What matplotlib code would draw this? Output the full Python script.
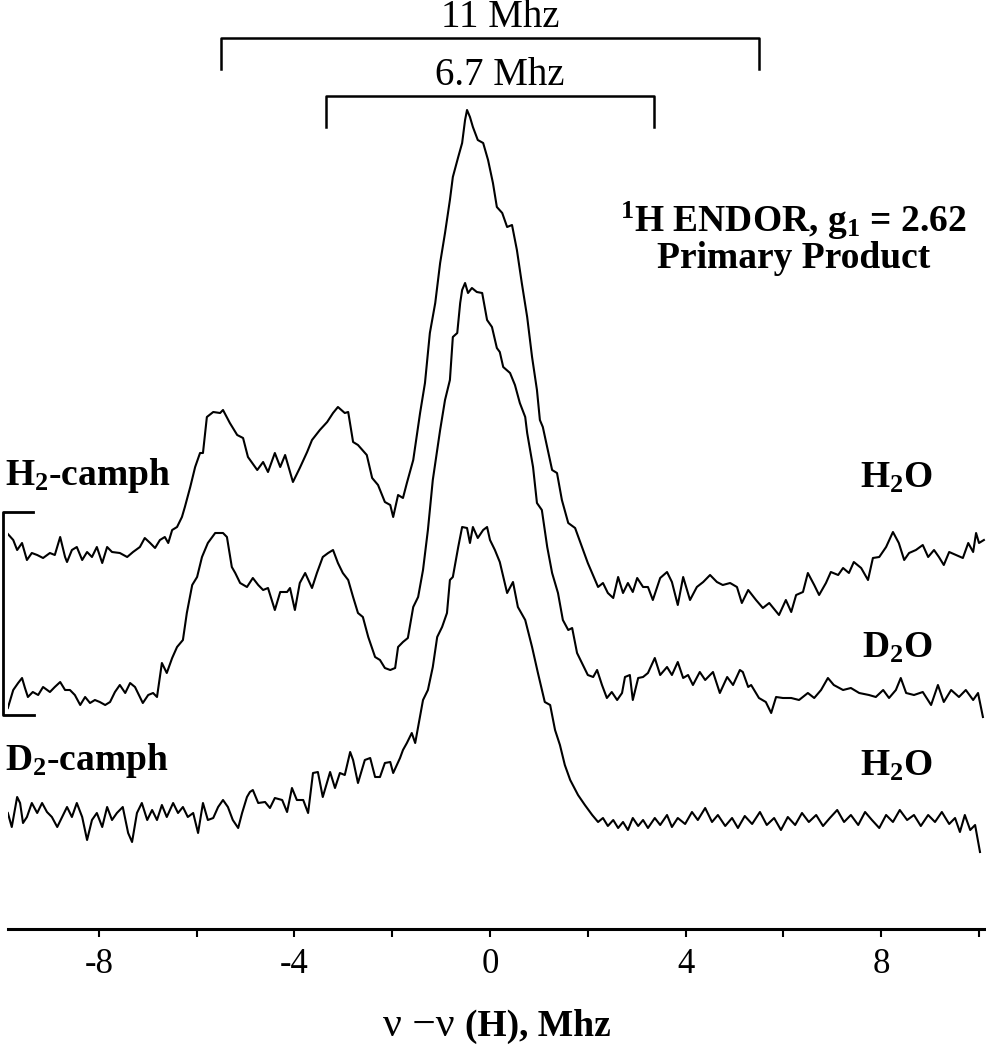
import matplotlib.pyplot as plt

plt.rcParams['font.family'] = ['Liberation Serif', 'DejaVu Serif']
plt.rcParams['mathtext.fontset'] = 'custom'
plt.rcParams['mathtext.rm'] = 'Liberation Serif'
plt.rcParams['mathtext.bf'] = 'Liberation Serif:bold'
plt.rcParams['mathtext.it'] = 'Liberation Serif:italic'

# ENDOR spectra, frequency offset nu - nu(H) in MHz and intensity (a.u.)
h2_h2o_x = [-9.86, -9.75, -9.67, -9.57, -9.47, -9.37, -9.26, -9.14, -9.00, -8.90,
            -8.79, -8.69, -8.65, -8.55, -8.45, -8.34, -8.24, -8.14, -8.04, -7.93,
            -7.83, -7.73, -7.57, -7.42, -7.30, -7.16, -7.06, -6.95, -6.85, -6.75,
            -6.65, -6.58, -6.50, -6.40, -6.30, -6.24, -6.13, -6.03, -5.93, -5.87,
            -5.79, -5.66, -5.52, -5.46, -5.32, -5.17, -5.05, -4.95, -4.76, -4.64,
            -4.54, -4.40, -4.29, -4.19, -4.03, -3.89, -3.74, -3.64, -3.48, -3.33,
            -3.21, -3.11, -2.97, -2.90, -2.80, -2.70, -2.52, -2.41, -2.29, -2.15,
            -2.04, -1.98, -1.88, -1.78, -1.70, -1.57, -1.43, -1.33, -1.23, -1.12,
            -1.02, -0.92, -0.82, -0.76, -0.65, -0.57, -0.51, -0.47, -0.41, -0.35,
            -0.25, -0.14, -0.04, 0.06, 0.14, 0.25, 0.35, 0.45, 0.55, 0.65,
            0.76, 0.86, 0.96, 1.02, 1.08, 1.27, 1.37, 1.47, 1.60, 1.74,
            1.88, 2.00, 2.15, 2.21, 2.31, 2.41, 2.52, 2.62, 2.72, 2.82,
            2.92, 3.01, 3.13, 3.23, 3.33, 3.48, 3.62, 3.72, 3.84, 3.95,
            4.09, 4.23, 4.36, 4.50, 4.64, 4.76, 4.91, 5.05, 5.15, 5.28,
            5.44, 5.58, 5.71, 5.91, 6.05, 6.16, 6.26, 6.40, 6.50, 6.63,
            6.73, 6.87, 6.97, 7.12, 7.22, 7.34, 7.44, 7.59, 7.73, 7.83,
            7.96, 8.10, 8.24, 8.36, 8.47, 8.57, 8.71, 8.85, 8.96, 9.08,
            9.18, 9.28, 9.39, 9.53, 9.67, 9.78, 9.88, 9.94, 10.00, 10.10]
h2_h2o_y = [19, 13, 3, 10, -7, 0, -2, -5, 0, -2,
            16, -4, -9, 3, 6, -7, 1, -4, 6, -10,
            6, 1, 0, -4, 1, 6, 15, 10, 5, 13,
            16, 10, 23, 26, 36, 46, 66, 86, 100, 100,
            136, 141, 140, 143, 130, 118, 115, 96, 83, 91,
            81, 100, 86, 98, 71, 85, 101, 113, 123, 131,
            140, 146, 140, 141, 111, 108, 98, 75, 68, 51,
            48, 36, 58, 55, 70, 93, 140, 170, 220, 250,
            290, 320, 353, 376, 396, 410, 433, 443, 436, 426,
            413, 410, 393, 370, 346, 340, 326, 328, 303, 270,
            236, 196, 163, 133, 126, 83, 80, 53, 30, 25,
            6, -10, -27, -34, -30, -40, -45, -24, -40, -30,
            -39, -25, -34, -34, -47, -25, -19, -29, -52, -24,
            -47, -34, -29, -22, -29, -32, -30, -34, -50, -37,
            -47, -55, -50, -62, -47, -59, -42, -39, -20, -32,
            -42, -30, -19, -22, -15, -20, -9, -15, -27, -5,
            -4, 6, 21, 10, -7, 0, 3, 8, -4, 3,
            -4, -12, 1, -2, -5, 10, 1, 20, 10, 13]

h2_d2o_x = [-9.86, -9.75, -9.65, -9.57, -9.51, -9.45, -9.35, -9.24, -9.14, -9.00,
            -8.90, -8.79, -8.69, -8.59, -8.49, -8.38, -8.28, -8.18, -8.08, -7.98,
            -7.87, -7.77, -7.67, -7.57, -7.46, -7.36, -7.26, -7.16, -7.10, -6.99,
            -6.89, -6.81, -6.71, -6.61, -6.50, -6.40, -6.28, -6.20, -6.09, -5.99,
            -5.89, -5.77, -5.62, -5.46, -5.38, -5.28, -5.21, -5.11, -4.97, -4.85,
            -4.74, -4.64, -4.54, -4.40, -4.29, -4.15, -4.09, -3.99, -3.89, -3.78,
            -3.64, -3.54, -3.42, -3.31, -3.21, -3.11, -3.01, -2.90, -2.80, -2.70,
            -2.60, -2.49, -2.35, -2.25, -2.15, -2.04, -1.94, -1.88, -1.78, -1.68,
            -1.57, -1.47, -1.37, -1.27, -1.17, -1.02, -0.92, -0.82, -0.76, -0.67,
            -0.61, -0.57, -0.51, -0.45, -0.37, -0.27, -0.16, -0.06, 0.04, 0.14,
            0.20, 0.27, 0.41, 0.51, 0.61, 0.72, 0.76, 0.88, 0.96, 1.06,
            1.17, 1.27, 1.39, 1.49, 1.60, 1.68, 1.78, 1.88, 2.00, 2.11,
            2.19, 2.29, 2.39, 2.49, 2.60, 2.70, 2.76, 2.86, 2.92, 3.03,
            3.13, 3.23, 3.37, 3.48, 3.62, 3.72, 3.84, 3.95, 4.05, 4.15,
            4.29, 4.40, 4.56, 4.70, 4.85, 4.97, 5.11, 5.17, 5.28, 5.34,
            5.50, 5.64, 5.75, 5.85, 5.99, 6.16, 6.32, 6.50, 6.63, 6.77,
            6.91, 7.03, 7.22, 7.38, 7.55, 7.75, 7.89, 8.04, 8.16, 8.30,
            8.40, 8.51, 8.67, 8.85, 9.02, 9.16, 9.28, 9.43, 9.59, 9.73,
            9.88, 9.98, 10.08]
h2_d2o_y = [-15, 3, 10, 15, 5, -4, 1, -2, 6, 1,
            6, 11, 3, 3, -2, -12, -4, -10, -7, -9,
            -12, -9, 1, 8, 0, 10, 6, -4, -10, -2,
            0, -4, 30, 20, 35, 46, 53, 80, 108, 116,
            136, 150, 160, 160, 156, 126, 120, 110, 106, 115,
            108, 103, 105, 83, 101, 101, 105, 83, 110, 120,
            105, 120, 136, 140, 143, 130, 120, 113, 96, 80,
            76, 56, 36, 33, 25, 23, 25, 46, 51, 55,
            86, 96, 123, 163, 213, 263, 293, 313, 356, 360,
            390, 403, 410, 400, 405, 401, 400, 373, 366, 345,
            341, 326, 320, 308, 290, 276, 260, 226, 190, 183,
            146, 120, 100, 73, 63, 65, 40, 30, 18, 16,
            23, 8, -5, 1, -7, 0, 16, 18, -7, 15,
            16, 20, 35, 18, 26, 18, 31, 15, 18, 8,
            21, 13, 21, 0, 16, 8, 23, 21, 6, 8,
            -5, -9, -20, -4, -5, -5, -7, 0, -5, 3,
            15, 8, 3, 5, 0, -2, -4, 3, -5, 3,
            15, 0, -2, 1, -12, 8, -9, 3, -4, 3,
            -7, 0, -24]

d2_h2o_x = [-9.86, -9.78, -9.67, -9.61, -9.55, -9.47, -9.37, -9.26, -9.16, -9.06,
            -8.96, -8.85, -8.75, -8.65, -8.55, -8.45, -8.34, -8.24, -8.14, -8.04,
            -7.93, -7.83, -7.73, -7.63, -7.51, -7.40, -7.32, -7.22, -7.12, -7.01,
            -6.91, -6.81, -6.71, -6.61, -6.48, -6.38, -6.28, -6.18, -6.07, -5.97,
            -5.87, -5.77, -5.66, -5.56, -5.46, -5.36, -5.26, -5.15, -5.07, -4.97,
            -4.91, -4.85, -4.74, -4.60, -4.50, -4.40, -4.25, -4.15, -4.05, -3.95,
            -3.82, -3.72, -3.62, -3.52, -3.42, -3.27, -3.17, -3.07, -2.97, -2.86,
            -2.80, -2.70, -2.56, -2.45, -2.35, -2.25, -2.15, -2.04, -1.98, -1.84,
            -1.78, -1.70, -1.60, -1.53, -1.47, -1.37, -1.27, -1.17, -1.08, -0.98,
            -0.88, -0.82, -0.76, -0.65, -0.57, -0.47, -0.41, -0.35, -0.25, -0.14,
            -0.06, 0.00, 0.10, 0.20, 0.35, 0.47, 0.57, 0.72, 0.86, 0.98,
            1.12, 1.23, 1.33, 1.43, 1.53, 1.64, 1.80, 1.94, 2.09, 2.21,
            2.31, 2.41, 2.52, 2.62, 2.72, 2.82, 2.92, 3.03, 3.13, 3.23,
            3.37, 3.48, 3.62, 3.72, 3.84, 3.99, 4.13, 4.25, 4.40, 4.54,
            4.66, 4.81, 4.95, 5.07, 5.21, 5.36, 5.52, 5.66, 5.81, 5.95,
            6.09, 6.24, 6.38, 6.52, 6.67, 6.81, 6.95, 7.10, 7.24, 7.38,
            7.53, 7.67, 7.81, 7.96, 8.10, 8.24, 8.38, 8.53, 8.67, 8.81,
            8.96, 9.10, 9.24, 9.39, 9.51, 9.61, 9.71, 9.82, 9.92, 10.02]
d2_h2o_y = [2, -12, 18, 12, -8, -2, 12, 2, 12, 3,
            -2, -12, -2, 8, -2, 12, -2, -25, -5, 2,
            -12, 8, -5, 2, 8, -18, -27, 2, 12, -5,
            5, -5, 10, -2, 12, 2, 8, -2, 2, -18,
            12, -5, -3, 8, 15, 8, -5, -13, 2, 18,
            23, 25, 12, 13, 7, 17, 15, 3, 27, 15,
            15, 2, 42, 43, 18, 43, 27, 42, 40, 63,
            55, 32, 55, 57, 38, 38, 52, 53, 42, 57,
            65, 72, 82, 72, 88, 115, 125, 148, 178, 188,
            202, 235, 238, 268, 288, 287, 272, 288, 277, 285,
            288, 275, 265, 253, 222, 233, 208, 195, 168, 142,
            113, 110, 85, 70, 50, 35, 20, 10, 0, -7,
            -3, -11, -5, -13, -7, -15, -3, -11, -5, -13,
            -3, -10, 0, -12, -3, -9, 3, -5, 7, -7,
            0, -11, -3, -13, -1, -9, 3, -10, -3, -15,
            -2, -10, 2, -7, 0, -11, -3, 5, -7, 0,
            -10, 3, -5, -13, 0, -7, 5, -5, 0, -11,
            0, -7, 3, -9, -3, -17, 0, -15, -10, -37]

spectra = [(h2_h2o_x, h2_h2o_y), (h2_d2o_x, h2_d2o_y), (d2_h2o_x, d2_h2o_y)]
offsets = [376, 236, 114]

couplings = [11, 6.7]          # MHz, hyperfine splittings marked on top
coupling_labels = ['11 Mhz', '6.7 Mhz']

fig = plt.figure(figsize=(9.86, 10.5), dpi=100)
ax = fig.add_axes([8 / 986, 121 / 1050, 978 / 986, 929 / 1050])
ax.set_xlim(-9.857, 10.143)
ax.set_ylim(0, 929)

for (x, y), off in zip(spectra, offsets):
    ax.plot(x, [v + off for v in y], color='black', lw=1.5)

# splitting brackets
bracket_y = [891, 833]
label_y = [902, 844]
for a, lab, by, ly in zip(couplings, coupling_labels, bracket_y, label_y):
    ax.plot([-a / 2, -a / 2, a / 2, a / 2], [by - 31, by, by, by - 31],
            color='black', lw=1.8, clip_on=False)
    ax.text(0.2, ly, lab, ha='center', va='baseline', fontsize=28)

# intensity scale bar at the left edge
ax.plot([-9.35, -9.96, -9.96, -9.33], [417, 417, 214, 214], color='black',
        lw=2, clip_on=False)

bold = dict(fontsize=27, fontweight='bold', va='baseline')
ax.text(-9.92, 444, r'H$_{\mathbf{2}}$-camph', ha='left', **bold)
ax.text(-9.92, 159, r'D$_{\mathbf{2}}$-camph', ha='left', **bold)
ax.text(9.06, 441, r'H$_{\mathbf{2}}$O', ha='right', **bold)
ax.text(9.06, 271, r'D$_{\mathbf{2}}$O', ha='right', **bold)
ax.text(9.06, 153, r'H$_{\mathbf{2}}$O', ha='right', **bold)
ax.text(6.2, 697, r'$^{\mathbf{1}}$H ENDOR, g$_{\mathbf{1}}$ = 2.62', ha='center', **bold)
ax.text(6.2, 661, 'Primary Product', ha='center', **bold)

for side in ['top', 'left', 'right']:
    ax.spines[side].set_visible(False)
ax.spines['bottom'].set_linewidth(2.2)
ax.set_yticks([])
ticks = list(range(-8, 11, 2))
ax.set_xticks(ticks)
ax.set_xticklabels([str(t) if t % 4 == 0 and abs(t) < 10 else '' for t in ticks],
                   fontsize=25)
ax.tick_params(axis='x', direction='out', length=6, width=1.5, pad=8)

fig.text(455 / 986, 14 / 1050, 'ν −ν', ha='right', va='baseline', fontsize=30)
fig.text(465 / 986, 14 / 1050, '(H), Mhz', ha='left', va='baseline',
         fontsize=27, fontweight='bold')

fig.savefig('out.png', dpi=100)
